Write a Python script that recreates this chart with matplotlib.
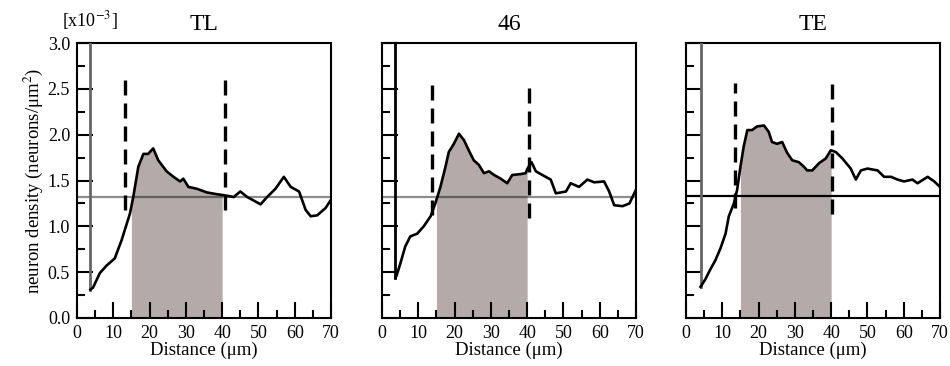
import numpy as np
import matplotlib
matplotlib.use("Agg")
import matplotlib.pyplot as plt
from matplotlib.ticker import MultipleLocator

plt.rcParams['font.family'] = ['Liberation Serif', 'DejaVu Serif']
plt.rcParams['mathtext.fontset'] = 'stix'

titles = ['TL', '46', 'TE']

# density curves, x in um, y in 1e-3 neurons/um^2 (first point is the spike at the top)
tl_x = [3.7, 3.7, 4.4, 6.3, 8.1, 10.4, 12.3, 14.6, 15.5, 16.9, 18.3, 19.6, 21.0, 22.4, 24.7,
        26.6, 28.4, 29.3, 30.7, 33.0, 35.8, 38.6, 40.4, 43.2, 45.0, 46.9, 50.6, 52.4, 54.7,
        57.0, 58.9, 61.2, 63.0, 64.4, 66.2, 68.5, 70.0]
tl_y = [3.05, 0.31, 0.33, 0.49, 0.57, 0.65, 0.85, 1.14, 1.32, 1.65, 1.79, 1.79, 1.85, 1.72, 1.60,
        1.54, 1.49, 1.52, 1.43, 1.41, 1.37, 1.35, 1.34, 1.32, 1.38, 1.32, 1.24, 1.32, 1.41,
        1.54, 1.43, 1.38, 1.18, 1.11, 1.12, 1.20, 1.29]

a46_x = [3.7, 3.7, 4.0, 5.1, 6.4, 7.8, 9.7, 11.5, 13.4, 14.7, 16.1, 17.5, 18.4, 19.8, 21.2, 22.6,
         23.9, 25.3, 26.7, 28.1, 29.5, 30.9, 32.7, 34.5, 35.9, 38.2, 39.6, 40.1, 41.2, 42.4,
         44.2, 46.5, 47.9, 50.7, 52.0, 54.3, 56.6, 58.5, 61.2, 62.6, 64.0, 66.3, 68.2, 70.0]
a46_y = [3.05, 0.44, 0.46, 0.60, 0.78, 0.89, 0.92, 1.00, 1.11, 1.25, 1.43, 1.65, 1.81, 1.90, 2.01, 1.94,
         1.83, 1.72, 1.67, 1.58, 1.60, 1.56, 1.52, 1.47, 1.56, 1.57, 1.58, 1.63, 1.70, 1.60,
         1.56, 1.51, 1.36, 1.38, 1.47, 1.43, 1.51, 1.48, 1.49, 1.38, 1.23, 1.22, 1.25, 1.40]

te_x = [4.0, 4.0, 5.3, 6.7, 8.1, 9.5, 10.9, 11.8, 13.2, 14.1, 15.0, 15.9, 16.9, 18.2, 19.6, 21.5,
        22.8, 23.7, 25.1, 26.5, 27.9, 29.3, 31.1, 32.5, 33.4, 34.8, 36.7, 38.5, 39.9, 41.3,
        43.1, 45.4, 46.8, 48.2, 50.0, 52.8, 54.6, 56.5, 58.3, 60.1, 62.4, 63.8, 66.6, 68.4, 70.0]
te_y = [3.05, 0.34, 0.42, 0.53, 0.63, 0.76, 0.92, 1.11, 1.25, 1.40, 1.65, 1.87, 2.05, 2.05, 2.09, 2.10,
        2.03, 1.92, 1.90, 1.92, 1.80, 1.72, 1.70, 1.65, 1.61, 1.61, 1.69, 1.74, 1.83, 1.81,
        1.74, 1.63, 1.51, 1.61, 1.63, 1.61, 1.54, 1.54, 1.51, 1.49, 1.51, 1.47, 1.54, 1.49, 1.43]

xs = [tl_x, a46_x, te_x]
ys = [tl_y, a46_y, te_y]

# mean density (horizontal line)
means = [1.32, 1.32, 1.33]
# dashed boundaries: x positions and vertical extent
dash_x = [[13.2, 40.7], [13.8, 40.5], [13.6, 40.3]]
dash_lo = [[1.18, 1.18], [1.12, 1.09], [1.2, 1.14]]
dash_hi = [[2.62, 2.62], [2.58, 2.58], [2.56, 2.56]]
# shaded region
shade_lo, shade_hi = 15, 40

fig = plt.figure(figsize=(9.5, 3.66), dpi=100)
lefts = [77, 382, 686]
for i in range(3):
    ax = fig.add_axes([lefts[i] / 950, 48 / 366, 254 / 950, 275 / 366])
    x = np.array(xs[i])
    y = np.array(ys[i])

    # shaded area under curve between boundaries
    fx = np.concatenate([[shade_lo], x[(x > shade_lo) & (x < shade_hi)], [shade_hi]])
    fy = np.interp(fx, x[1:], y[1:])
    ax.fill_between(fx, 0, fy, color='#b5aaaa', lw=0, zorder=1)

    ax.axhline(means[i], color='black', alpha=0.45 if i < 2 else 1.0, lw=1.6, zorder=2)
    for dx, lo, hi in zip(dash_x[i], dash_lo[i], dash_hi[i]):
        ax.plot([dx, dx], [lo, hi], color='black', lw=2.4, dashes=(4.5, 2.4), zorder=3)

    ax.plot(x[:2], y[:2], color='#666666' if i != 1 else 'black', lw=2.0, zorder=4)
    ax.plot(x[1:], y[1:], color='black', lw=1.9, zorder=5)

    ax.set_xlim(0, 70)
    ax.set_ylim(0, 3.0)
    ax.xaxis.set_major_locator(MultipleLocator(10))
    ax.xaxis.set_minor_locator(MultipleLocator(5))
    ax.yaxis.set_major_locator(MultipleLocator(0.5))
    ax.yaxis.set_minor_locator(MultipleLocator(0.25))
    ax.tick_params(which='both', direction='in', top=False, right=False, width=1.5,
                   labelsize=13, pad=5)
    ax.tick_params(which='major', length=11.5)
    ax.tick_params(which='minor', length=6)
    for s in ax.spines.values():
        s.set_linewidth(1.5)
    ax.set_title(titles[i], fontsize=17, pad=9)
    ax.set_xlabel('Distance (μm)', fontsize=13.5, labelpad=0)
    if i == 0:
        ax.yaxis.set_major_formatter(matplotlib.ticker.FormatStrFormatter('%.1f'))
        ax.set_ylabel('neuron density (neurons/μm$^2$)', fontsize=13.5, labelpad=2)
        ax.text(0.05, 1.04, '[x10$^{-3}$]', transform=ax.transAxes, fontsize=13,
                ha='center', va='bottom')
    else:
        ax.set_yticklabels([])

fig.savefig('out.png', dpi=100)
